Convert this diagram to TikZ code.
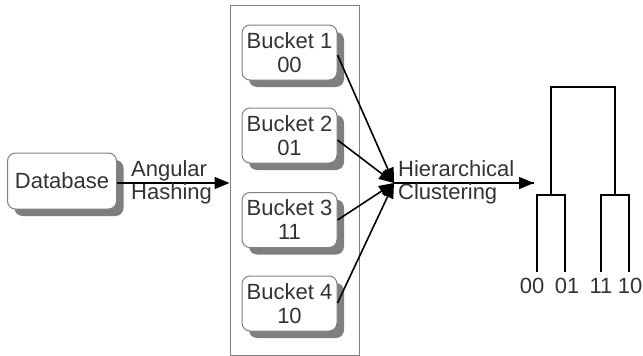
\documentclass[tikz,border=0pt]{standalone}
\usepackage{fontspec}
\setmainfont{Liberation Sans}
\usetikzlibrary{arrows.meta,shadows}
\definecolor{txt}{HTML}{333333}
\definecolor{edge}{HTML}{808080}
\definecolor{shade}{HTML}{7F7F7F}
\tikzset{
  box/.style={draw=edge, line width=1pt, fill=white, rounded corners=8pt,
    minimum width=95pt, minimum height=55pt, align=center, inner sep=0pt,
    text=txt, font=\fontsize{22}{24}\selectfont,
    drop shadow={shadow xshift=7pt, shadow yshift=-7pt, fill=shade, opacity=1}},
  lbl/.style={text=txt, font=\fontsize{22}{23}\selectfont, align=left, inner sep=0pt},
  flow/.style={line width=1.6pt, -{Triangle[length=15pt,width=12pt]}},
  tree/.style={line width=1.6pt}
}
\begin{document}
\begin{tikzpicture}[x=1pt,y=-1pt]
\useasboundingbox (0,0) rectangle (643,356);
% input store
\node[box, minimum width=109pt, minimum height=56pt] (db) at (62,181) {Database};
% container holding the buckets
\node[draw=edge, line width=1pt, minimum width=129pt, minimum height=350pt, inner sep=0pt] (cont) at (294.5,180) {};
% buckets
\node[box] (b1) at (289.5,52.5) {Bucket 1\\00};
\node[box] (b2) at (289.5,135.5) {Bucket 2\\01};
\node[box] (b3) at (289.5,220) {Bucket 3\\11};
\node[box] (b4) at (289.5,303.5) {Bucket 4\\10};
% merge point and dendrogram entry
\coordinate (m) at (394,183);
\coordinate (d) at (534,183);
\draw[flow] (db.east |- 0,183) -- (cont.west |- 0,183);
\node[lbl, anchor=west] (ah) at (131,182) {Angular\\Hashing};
\draw[flow] (b1.east |- 0,55) -- (m);
\draw[flow] (b2.east |- 0,140) -- (m);
\draw[flow] (b3.east |- 0,220) -- (m);
\draw[flow] (b4.east |- 0,303) -- (m);
\draw[line width=1.6pt] (m) -- (d);
\draw[flow] (m) -- (d);
\node[lbl, anchor=west] (hc) at (398,182) {Hierarchical\\Clustering};
% dendrogram
\coordinate (l1) at (537,272);
\coordinate (l2) at (565,272);
\coordinate (l3) at (601,272);
\coordinate (l4) at (629,272);
\draw[tree] (l1) -- (537,195) -- (565,195) -- (l2);
\draw[tree] (l3) -- (601,195) -- (629,195) -- (l4);
\draw[tree] (551,195) -- (551,87) -- (615,87) -- (615,195);
\node[lbl, anchor=north] (t1) at (532,278) {00};
\node[lbl, anchor=north] (t2) at (567,278) {01};
\node[lbl, anchor=north] (t3) at (601,278) {11};
\node[lbl, anchor=north] (t4) at (630,278) {10};
\end{tikzpicture}
\end{document}
